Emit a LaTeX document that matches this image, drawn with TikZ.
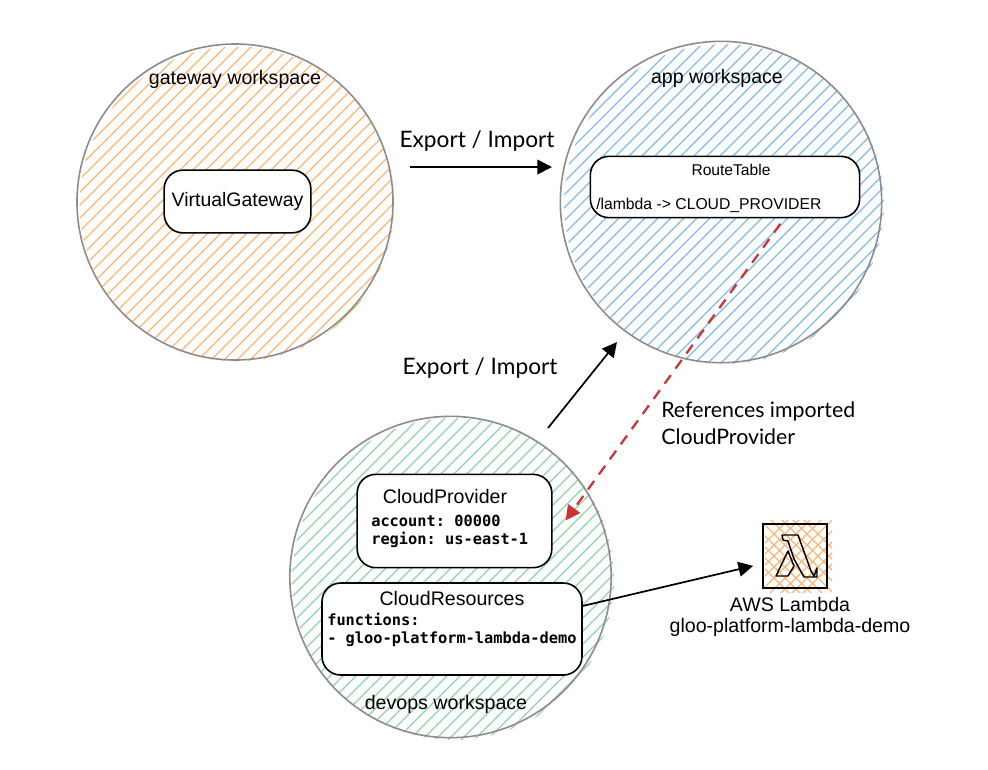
\documentclass[tikz,border=0pt]{standalone}
\usepackage{fontspec}
\setmainfont{Liberation Sans}
\newfontfamily\handfont{Lato}
\newfontfamily\codefont{DejaVu Sans Mono}
\usetikzlibrary{arrows.meta}
\definecolor{hatchorange}{HTML}{FFB570}
\definecolor{hatchblue}{HTML}{7EBBF0}
\definecolor{hatchgreen}{HTML}{8ED5A4}
\definecolor{refred}{HTML}{CC3333}
\tikzset{
  workspace/.style={circle,draw=black!45,line width=1.2pt,inner sep=0pt},
  resource/.style={draw,rounded corners=14pt,line width=1.2pt,fill=white,inner sep=0pt},
  title/.style={font=\fontsize{14.7pt}{17pt}\selectfont,inner sep=0pt},
  code/.style={font=\fontsize{11.5pt}{13.6pt}\codefont\bfseries\frenchspacing,align=left,inner sep=0pt},
  hand/.style={font=\fontsize{16pt}{20pt}\handfont,align=left,inner sep=0pt},
  hatchline/.style={line width=0.9pt},
  flow/.style={line width=1.3pt,-{Triangle[length=11pt,width=11pt]}},
}
% centre x, centre y, radius, colour
\newcommand{\hatchdisc}[4]{
  \begin{scope}
    \clip (#1,#2) circle (#3);
    \foreach \d in {-234,-221,...,234}
      \draw[hatchline,#4] ({#1+\d-#3},{#2+#3}) -- ({#1+\d+#3},{#2-#3});
  \end{scope}
}
\begin{document}
\begin{tikzpicture}[x=0.75pt,y=-0.75pt]
\useasboundingbox (0,0) rectangle (988,769);
% hatching sits under the outlines, a little off centre
\hatchdisc{237}{204}{157.5}{hatchorange}
\hatchdisc{724}{204}{160}{hatchblue}
\hatchdisc{453}{579}{161}{hatchgreen}
% workspaces
\node[workspace,minimum size=237pt] (gateway) at (235,202) {};
\node[workspace,minimum size=241pt] (app) at (721,202) {};
\node[workspace,minimum size=241pt] (devops) at (450.5,577) {};
\node[title] (gatewaylabel) at (235,79) {gateway workspace};
\node[title] (applabel) at (717,78) {app workspace};
\node[title] (devopslabel) at (446,704) {devops workspace};
% boxes
\node[resource,minimum width=110pt,minimum height=47pt] (virtualgw) at (237.5,201.5) {\fontsize{14.6pt}{17pt}\selectfont VirtualGateway};
\node[resource,minimum width=202pt,minimum height=46pt] (route) at (725,187) {};
\node[resource,minimum width=146pt,minimum height=70pt] (provider) at (454.5,521) {};
\node[resource,minimum width=195pt,minimum height=69pt] (resources) at (452,629) {};
\node[font=\fontsize{11.7pt}{14pt}\selectfont,inner sep=0pt] (routetitle) at (731,170) {RouteTable};
\node[font=\fontsize{11.8pt}{14pt}\selectfont,inner sep=0pt,anchor=west] (routeline) at (596,205) {/lambda -> CLOUD\_PROVIDER};
\node[title] (providertitle) at (445,496) {CloudProvider};
\node[code,anchor=north west] (providercode) at (371,515) {account: 00000\\region: us-east-1};
\node[title] (resourcestitle) at (452,598) {CloudResources};
\node[code,anchor=north west] (resourcescode) at (327,613) {functions:\\- gloo-platform-lambda-demo};
% lambda
\begin{scope}
  \clip (765,520) rectangle (832,592);
  \foreach \d in {-44,-33,...,44} {
    \draw[hatchline,hatchorange] ({796+\d-60},616) -- ({796+\d+60},496);
    \draw[hatchline,hatchorange] ({796+\d-60},496) -- ({796+\d+60},616);
  }
\end{scope}
\node[draw,line width=1.6pt,minimum size=48pt,inner sep=0pt] (lambda) at (795,556) {};
\draw[line width=1.1pt,line join=round] (782,535) -- (798,535) -- (811,571) -- (814,576) -- (817,568) -- (817,577) -- (804,577) -- (794,559) -- (788,541) -- (783,540) -- cycle;
\draw[line width=1.1pt,line join=round] (788,551) -- (794,566) -- (788,576) -- (776,576) -- cycle;
\node[title] (lambdaname) at (790,604) {AWS Lambda};
\node[title] (lambdafunc) at (790,627) {gloo-platform-lambda-demo};
% connectors
\coordinate (gatewayout) at (410,167);
\coordinate (appin) at (552,167);
\coordinate (devopsout) at (548,428);
\coordinate (appbelow) at (617,342);
\draw[flow] (gatewayout) -- (appin);
\draw[flow] (devopsout) -- (appbelow);
\draw[flow,shorten >=6.75pt] (resources.10) -- (lambda);
\draw[flow,refred,line width=1.7pt,dash pattern=on 8pt off 6pt,shorten <=5pt,shorten >=16.6pt] (route.-28.5) -- (provider.-10);
\node[hand,font=\fontsize{17pt}{20pt}\handfont] (exportone) at (477,141) {Export / Import};
\node[hand,font=\fontsize{17pt}{20pt}\handfont] (exporttwo) at (480,368) {Export / Import};
\node[hand,anchor=west] (refnote) at (661,423) {References imported\\CloudProvider};
\end{tikzpicture}
\end{document}
